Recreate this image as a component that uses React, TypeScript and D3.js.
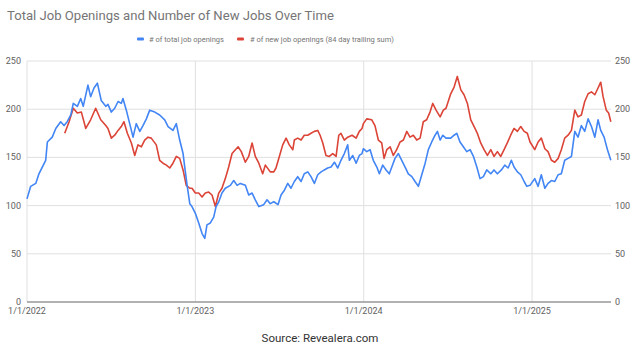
import React from "react";
import * as d3 from "d3";

// Time expressed as fractional years
const totalYears = [
  2022.0, 2022.022, 2022.052, 2022.071, 2022.091, 2022.111, 2022.121, 2022.15, 2022.171, 2022.2,
  2022.22, 2022.239, 2022.26, 2022.275, 2022.299, 2022.319, 2022.334, 2022.362, 2022.378, 2022.398,
  2022.418, 2022.441, 2022.468, 2022.481, 2022.501, 2022.521, 2022.541, 2022.56, 2022.57, 2022.59,
  2022.61, 2022.63, 2022.649, 2022.67, 2022.689, 2022.709, 2022.729, 2022.759, 2022.788, 2022.818,
  2022.838, 2022.867, 2022.887, 2022.907, 2022.927, 2022.937, 2022.952, 2022.967, 2022.98, 2023.0,
  2023.02, 2023.04, 2023.056, 2023.069, 2023.089, 2023.109, 2023.123, 2023.139, 2023.158, 2023.178,
  2023.208, 2023.228, 2023.248, 2023.267, 2023.297, 2023.317, 2023.337, 2023.356, 2023.377, 2023.406,
  2023.426, 2023.445, 2023.466, 2023.491, 2023.509, 2023.529, 2023.549, 2023.568, 2023.588, 2023.608,
  2023.628, 2023.647, 2023.668, 2023.687, 2023.707, 2023.727, 2023.747, 2023.766, 2023.786, 2023.806,
  2023.826, 2023.846, 2023.865, 2023.885, 2023.905, 2023.915, 2023.935, 2023.955, 2023.974, 2023.99,
  2023.998, 2024.018, 2024.038, 2024.057, 2024.078, 2024.093, 2024.113, 2024.133, 2024.152, 2024.167,
  2024.186, 2024.206, 2024.226, 2024.246, 2024.265, 2024.286, 2024.305, 2024.325, 2024.345, 2024.365,
  2024.384, 2024.404, 2024.424, 2024.438, 2024.454, 2024.47, 2024.489, 2024.517, 2024.537, 2024.553,
  2024.572, 2024.592, 2024.612, 2024.632, 2024.652, 2024.672, 2024.691, 2024.711, 2024.731, 2024.755,
  2024.774, 2024.794, 2024.818, 2024.838, 2024.858, 2024.877, 2024.893, 2024.913, 2024.933, 2024.953,
  2024.969, 2024.988, 2025.016, 2025.036, 2025.055, 2025.076, 2025.095, 2025.115, 2025.135, 2025.155,
  2025.174, 2025.194, 2025.214, 2025.234, 2025.254, 2025.273, 2025.293, 2025.313, 2025.333, 2025.353,
  2025.373, 2025.392, 2025.408, 2025.428, 2025.448, 2025.468,
];
const totalOpenings = [
  107, 120, 123, 133, 140, 147, 166, 171, 180, 187,
  183, 187, 194, 206, 203, 211, 203, 225, 213, 222,
  227, 209, 203, 205, 197, 201, 208, 206, 211, 199,
  185, 171, 185, 177, 183, 190, 199, 197, 194, 189,
  182, 178, 185, 168, 154, 140, 120, 102, 99, 92,
  82, 71, 66, 80, 82, 88, 99, 104, 113, 118,
  121, 126, 121, 123, 121, 111, 113, 106, 99, 101,
  106, 102, 104, 101, 111, 116, 123, 118, 125, 130,
  125, 133, 135, 130, 123, 132, 135, 137, 139, 140,
  145, 139, 147, 154, 163, 147, 152, 144, 152, 154,
  159, 156, 158, 147, 140, 133, 142, 137, 133, 140,
  149, 154, 147, 140, 133, 130, 125, 120, 132, 144,
  158, 166, 173, 177, 168, 173, 170, 170, 173, 175,
  166, 161, 156, 158, 151, 140, 128, 130, 137, 133,
  137, 133, 137, 142, 139, 147, 140, 135, 132, 125,
  120, 121, 128, 120, 132, 118, 123, 126, 125, 132,
  133, 147, 149, 151, 177, 171, 183, 177, 190, 182,
  171, 189, 178, 171, 158, 147,
];

const newYears = [
  2022.224, 2022.25, 2022.275, 2022.299, 2022.323, 2022.349, 2022.378, 2022.408, 2022.438, 2022.468,
  2022.481, 2022.501, 2022.521, 2022.541, 2022.56, 2022.576, 2022.596, 2022.62, 2022.64, 2022.659,
  2022.679, 2022.699, 2022.719, 2022.738, 2022.768, 2022.788, 2022.808, 2022.828, 2022.848, 2022.867,
  2022.887, 2022.907, 2022.927, 2022.946, 2022.967, 2022.98, 2023.0, 2023.02, 2023.04, 2023.059,
  2023.079, 2023.099, 2023.119, 2023.139, 2023.158, 2023.178, 2023.198, 2023.218, 2023.238, 2023.254,
  2023.273, 2023.297, 2023.317, 2023.337, 2023.356, 2023.377, 2023.4, 2023.416, 2023.445, 2023.466,
  2023.479, 2023.499, 2023.519, 2023.539, 2023.558, 2023.579, 2023.588, 2023.608, 2023.628, 2023.647,
  2023.668, 2023.687, 2023.707, 2023.727, 2023.741, 2023.757, 2023.776, 2023.796, 2023.816, 2023.836,
  2023.852, 2023.865, 2023.885, 2023.905, 2023.931, 2023.955, 2023.974, 2023.99, 2023.998, 2024.018,
  2024.048, 2024.067, 2024.087, 2024.107, 2024.121, 2024.137, 2024.157, 2024.176, 2024.196, 2024.216,
  2024.236, 2024.256, 2024.275, 2024.295, 2024.315, 2024.335, 2024.354, 2024.374, 2024.394, 2024.41,
  2024.43, 2024.454, 2024.473, 2024.489, 2024.517, 2024.537, 2024.556, 2024.577, 2024.596, 2024.616,
  2024.636, 2024.656, 2024.675, 2024.695, 2024.715, 2024.735, 2024.755, 2024.774, 2024.794, 2024.814,
  2024.834, 2024.853, 2024.873, 2024.893, 2024.913, 2024.933, 2024.953, 2024.972, 2024.988, 2025.016,
  2025.036, 2025.055, 2025.076, 2025.095, 2025.115, 2025.135, 2025.155, 2025.174, 2025.194, 2025.214,
  2025.234, 2025.254, 2025.273, 2025.293, 2025.313, 2025.333, 2025.353, 2025.373, 2025.392, 2025.408,
  2025.422, 2025.441, 2025.455, 2025.468,
];
const newOpenings = [
  175, 187, 201, 196, 197, 180, 189, 201, 189, 183,
  180, 170, 173, 178, 182, 187, 175, 165, 152, 163,
  161, 168, 171, 170, 163, 147, 144, 142, 139, 144,
  151, 149, 137, 121, 118, 118, 113, 113, 109, 113,
  114, 111, 99, 113, 118, 128, 140, 154, 158, 161,
  156, 145, 151, 165, 151, 144, 133, 142, 135, 135,
  139, 151, 163, 170, 163, 158, 168, 170, 168, 173,
  173, 175, 177, 178, 173, 165, 152, 151, 154, 151,
  173, 175, 168, 171, 173, 170, 177, 180, 185, 190,
  189, 183, 168, 165, 149, 158, 161, 152, 158, 166,
  168, 177, 171, 173, 168, 170, 187, 189, 197, 206,
  199, 192, 199, 201, 216, 223, 234, 220, 215, 206,
  189, 182, 175, 165, 158, 152, 158, 151, 156, 151,
  158, 165, 173, 180, 177, 182, 177, 175, 166, 158,
  166, 170, 159, 156, 147, 145, 149, 158, 170, 173,
  178, 199, 192, 194, 208, 216, 218, 215, 222, 228,
  213, 199, 196, 187,
];

const yTicks = [0, 50, 100, 150, 200, 250];
const xTicks = [2022, 2023, 2024, 2025];
const xTickLabels = ["1/1/2022", "1/1/2023", "1/1/2024", "1/1/2025"];
const seriesNames = ["# of total job openings", "# of new job openings (84 day trailing sum)"];

const W = 640;
const H = 349;
const left = 27;
const right = 611;
const top = 61;
const bottom = 302;
const BLUE = "#4285f4";
const RED = "#db4437";
const FONT = "Roboto, 'Noto Sans', Arial, sans-serif";

export default function App() {
  const x = d3.scaleLinear().domain([2022, 2025.469]).range([left, right]);
  const y = d3.scaleLinear().domain([0, 250]).range([bottom, top]);

  const line = d3
    .line<[number, number]>()
    .x((d) => x(d[0]))
    .y((d) => y(d[1]));

  const blueData: [number, number][] = totalYears.map((t, i) => [t, totalOpenings[i]]);
  const redData: [number, number][] = newYears.map((t, i) => [t, newOpenings[i]]);

  return (
    <svg
      width={W}
      height={H}
      style={{ position: "absolute", left: 0, top: 0, background: "#fff" }}
      fontFamily={FONT}
    >
      <rect x={0} y={0} width={W} height={H} fill="#fff" />
      <text x={7} y={20} fontSize={13.1} fill="#757575">
        Total Job Openings and Number of New Jobs Over Time
      </text>

      {/* legend */}
      <g fontSize={7.5} fill="#757575">
        <rect x={137} y={37.5} width={7} height={3} fill={BLUE} rx={1} />
        <text x={149} y={42}>{seriesNames[0]}</text>
        <rect x={237} y={37.5} width={7} height={3} fill={RED} rx={1} />
        <text x={250} y={42}>{seriesNames[1]}</text>
      </g>

      {/* horizontal grid */}
      {yTicks.map((t) => (
        <line key={"g" + t} x1={left} x2={right} y1={y(t)} y2={y(t)} stroke="#e0e0e0" strokeWidth={1} />
      ))}
      {/* vertical grid */}
      {xTicks.map((t) => (
        <line key={"v" + t} x1={x(t)} x2={x(t)} y1={top} y2={bottom} stroke="#e0e0e0" strokeWidth={1} />
      ))}

      {/* y labels left and right */}
      <g fontSize={9} fill="#616161">
        {yTicks.map((t) => (
          <text key={"l" + t} x={21} y={y(t) + 3} textAnchor="end">
            {t}
          </text>
        ))}
        {yTicks.map((t) => (
          <text key={"r" + t} x={615} y={y(t) + 3} textAnchor="start">
            {t}
          </text>
        ))}
        {xTicks.map((t, i) => (
          <text key={"x" + t} x={x(t)} y={314} textAnchor="middle">
            {xTickLabels[i]}
          </text>
        ))}
      </g>

      {/* lines */}
      <path d={line(redData) || ""} fill="none" stroke={RED} strokeWidth={1.6} strokeLinejoin="round" />
      <path d={line(blueData) || ""} fill="none" stroke={BLUE} strokeWidth={1.6} strokeLinejoin="round" />

      {/* baseline */}
      <line x1={left} x2={right} y1={bottom} y2={bottom} stroke="#757575" strokeWidth={1.2} />

      <text x={320} y={342} fontSize={11.5} fill="#333" textAnchor="middle">
        Source: Revealera.com
      </text>
    </svg>
  );
}
